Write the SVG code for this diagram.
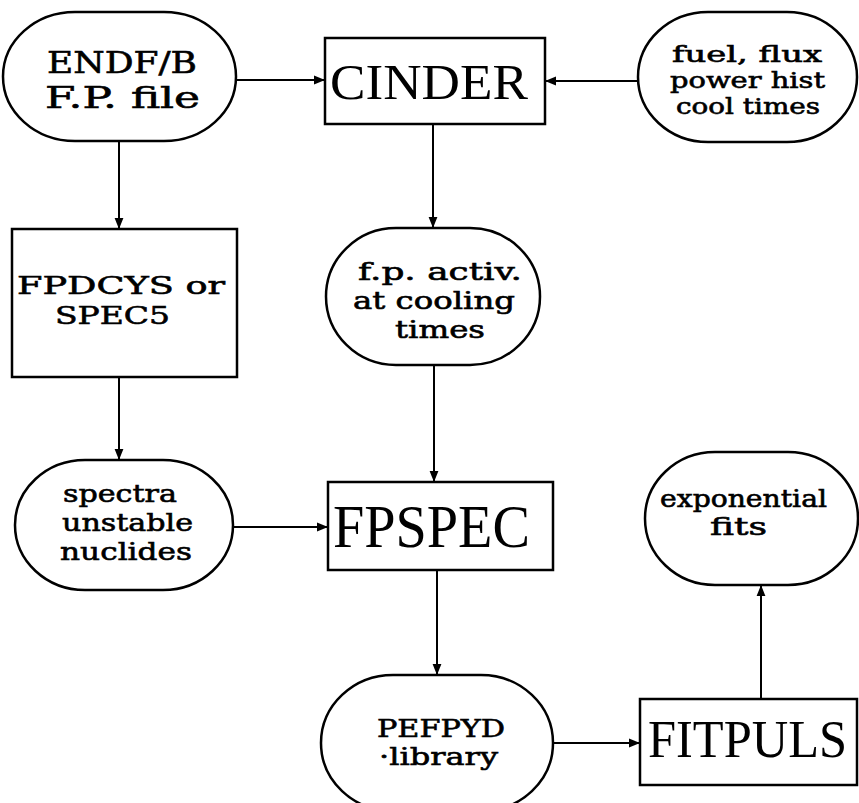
<svg xmlns="http://www.w3.org/2000/svg" width="859" height="803" viewBox="0 0 859 803">
<defs>
<style>
.shape{fill:#fff;stroke:#000;stroke-width:2.5}
.conn{fill:none;stroke:#000;stroke-width:2}
.big{font-family:"Liberation Serif","Times New Roman",serif;fill:#000}
.slab{font-family:"DejaVu Serif","Liberation Serif",serif;font-weight:normal;fill:#000;stroke:#000;stroke-width:0.6}
</style>
<marker id="arr" viewBox="0 0 10 10" refX="10" refY="5" markerWidth="11" markerHeight="11" markerUnits="userSpaceOnUse" orient="auto">
<path d="M0,1 L10,5 L0,9 Z" fill="#000"/>
</marker>
</defs>
<rect width="859" height="803" fill="#fff"/>
<g id="connectors">
<line class="conn" x1="236" y1="80" x2="325" y2="80" marker-end="url(#arr)"/>
<line class="conn" x1="638" y1="81" x2="545" y2="81" marker-end="url(#arr)"/>
<line class="conn" x1="119" y1="141" x2="119" y2="229" marker-end="url(#arr)"/>
<line class="conn" x1="433" y1="124" x2="433" y2="228" marker-end="url(#arr)"/>
<line class="conn" x1="119" y1="377" x2="119" y2="460" marker-end="url(#arr)"/>
<line class="conn" x1="434" y1="365" x2="434" y2="482" marker-end="url(#arr)"/>
<line class="conn" x1="233" y1="527" x2="328" y2="527" marker-end="url(#arr)"/>
<line class="conn" x1="437" y1="570" x2="437" y2="675" marker-end="url(#arr)"/>
<line class="conn" x1="553" y1="743" x2="640" y2="743" marker-end="url(#arr)"/>
<line class="conn" x1="761" y1="699" x2="761" y2="585" marker-end="url(#arr)"/>
</g>
<g id="endf">
<rect class="shape" x="3" y="12" width="233" height="129" rx="72" ry="64.5"/>
<text class="slab" font-size="30" x="47" y="73" textLength="150" lengthAdjust="spacingAndGlyphs">ENDF/B</text>
<text class="slab" font-size="30" x="45" y="108" textLength="155" lengthAdjust="spacingAndGlyphs">F.P. file</text>
</g>
<g id="cinder">
<rect class="shape" x="325" y="38" width="220" height="86"/>
<text class="big" font-size="50" x="330" y="99" textLength="198" lengthAdjust="spacingAndGlyphs">CINDER</text>
</g>
<g id="fuel">
<rect class="shape" x="638" y="12" width="219" height="130" rx="70" ry="65"/>
<text class="slab" font-size="22" x="672" y="62" textLength="150" lengthAdjust="spacingAndGlyphs">fuel, flux</text>
<text class="slab" font-size="22" x="670" y="88" textLength="155" lengthAdjust="spacingAndGlyphs">power hist</text>
<text class="slab" font-size="22" x="676" y="114" textLength="144" lengthAdjust="spacingAndGlyphs">cool times</text>
</g>
<g id="fpdcys">
<rect class="shape" x="12" y="229" width="225" height="148"/>
<text class="slab" font-size="25" x="17" y="294" textLength="208" lengthAdjust="spacingAndGlyphs">FPDCYS or</text>
<text class="slab" font-size="25" x="55" y="324" textLength="115" lengthAdjust="spacingAndGlyphs">SPEC5</text>
</g>
<g id="fpactiv">
<rect class="shape" x="326" y="228" width="214" height="137" rx="70" ry="68.5"/>
<text class="slab" font-size="24.5" x="358" y="280" textLength="164" lengthAdjust="spacingAndGlyphs">f.p. activ.</text>
<text class="slab" font-size="24.5" x="353" y="309" textLength="162" lengthAdjust="spacingAndGlyphs">at cooling</text>
<text class="slab" font-size="24.5" x="395" y="338" textLength="90" lengthAdjust="spacingAndGlyphs">times</text>
</g>
<g id="spectra">
<rect class="shape" x="15" y="460" width="218" height="130" rx="70" ry="65"/>
<text class="slab" font-size="24.5" x="63" y="502" textLength="114" lengthAdjust="spacingAndGlyphs">spectra</text>
<text class="slab" font-size="24.5" x="62" y="531" textLength="131" lengthAdjust="spacingAndGlyphs">unstable</text>
<text class="slab" font-size="24.5" x="60" y="560" textLength="132" lengthAdjust="spacingAndGlyphs">nuclides</text>
</g>
<g id="fpspec">
<rect class="shape" x="328" y="482" width="225" height="88"/>
<text class="big" font-size="62" x="333" y="547" textLength="197" lengthAdjust="spacingAndGlyphs">FPSPEC</text>
</g>
<g id="expfits">
<rect class="shape" x="645" y="452" width="213" height="133" rx="70" ry="66.5"/>
<text class="slab" font-size="24" x="660" y="507" textLength="167" lengthAdjust="spacingAndGlyphs">exponential</text>
<text class="slab" font-size="24" x="710" y="535" textLength="57" lengthAdjust="spacingAndGlyphs">fits</text>
</g>
<g id="pefpyd">
<rect class="shape" x="321" y="675" width="232" height="136" rx="72" ry="68"/>
<text class="slab" font-size="24" x="377" y="737" textLength="128" lengthAdjust="spacingAndGlyphs">PEFPYD</text>
<text class="slab" font-size="24" x="379" y="765" textLength="119" lengthAdjust="spacingAndGlyphs">·library</text>
</g>
<g id="fitpuls">
<rect class="shape" x="640" y="699" width="217" height="86"/>
<text class="big" font-size="52" x="648" y="757" textLength="199" lengthAdjust="spacingAndGlyphs">FITPULS</text>
</g>
</svg>
